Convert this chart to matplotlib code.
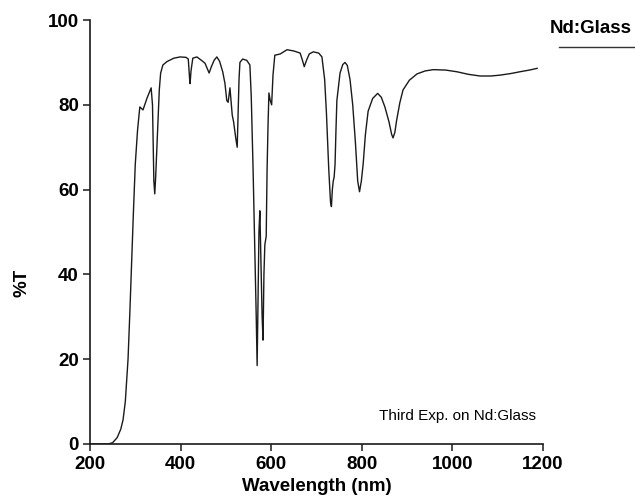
import numpy as np
import matplotlib
matplotlib.use("Agg")
import matplotlib.pyplot as plt

plt.rcParams['font.family'] = ['Liberation Sans', 'DejaVu Sans']

# wavelength (nm) and transmittance (%)
wavelength = [200, 240, 250, 260, 268, 273, 278, 284, 288, 292, 296, 300, 305, 310,
              317, 326, 335, 338, 341, 343, 345, 347, 350, 353, 356, 361, 370, 385,
              399, 412, 417, 420, 421, 423, 427, 436, 446, 454, 460, 463, 468, 474,
              480, 486, 493, 498, 502, 505, 509, 512, 514, 517, 522, 525, 527, 529,
              531, 537, 546, 553, 556, 560, 564, 567, 569, 571, 573, 575, 577, 580,
              582, 584, 586, 589, 591, 593, 595, 598, 601, 604, 608, 620, 635, 650,
              664, 669, 673, 678, 684, 693, 705, 712, 718, 722, 727, 731, 733, 735,
              737, 739, 741, 743, 745, 752, 758, 763, 768, 774, 780, 786, 791, 795,
              799, 803, 808, 814, 824, 835, 843, 851, 860, 866, 869, 873, 877, 884,
              891, 905, 922, 940, 958, 985, 1010, 1035, 1061, 1085, 1105, 1130, 1149,
              1170, 1187]
transmittance = [0, 0, 0.3, 1.5, 3.5, 5.7, 10, 20, 31, 43, 55, 66, 74, 79.5,
                 78.8, 81.6, 84, 80, 62, 59, 63, 68, 76, 83.5, 87.5, 89.4, 90.2, 91,
                 91.3, 91.2, 90.8, 86, 85, 88, 91, 91.3, 90.5, 89.8, 88.3, 87.5, 89, 90.5,
                 91.3, 90.3, 87.8, 85, 81, 80.6, 84, 80, 77.6, 76, 72, 70, 78, 86,
                 90, 90.8, 90.5, 89.4, 82, 65, 45, 30, 18.5, 35, 50, 55, 45, 30,
                 24.5, 40, 47, 49, 65, 75, 82.8, 81, 80, 87, 91.7, 92, 93, 92.7,
                 92.2, 90.5, 89, 90.5, 92, 92.5, 92.2, 91.3, 86, 78, 65, 57, 56, 60,
                 62, 63, 66, 74, 81, 87.5, 89.5, 90, 89.3, 86, 80, 71, 62, 59.5,
                 62, 66, 73, 78.5, 81.5, 82.7, 81.8, 79.5, 76, 73, 72.2, 73.5, 76.4, 80.5,
                 83.5, 85.8, 87.3, 88, 88.3, 88.2, 87.8, 87.2, 86.8, 86.8, 87, 87.4, 87.8,
                 88.2, 88.6]

x_ticks = [200, 400, 600, 800, 1000, 1200]
y_ticks = [0, 20, 40, 60, 80, 100]

fig = plt.figure(figsize=(6.35, 5.01), dpi=100)
ax = fig.add_axes([0.1417, 0.1138, 0.7134, 0.8462])

ax.plot(wavelength, transmittance, color='#1a1a1a', linewidth=1.0)

ax.set_xlim(200, 1200)
ax.set_ylim(0, 100)
ax.set_xticks(x_ticks)
ax.set_yticks(y_ticks)
ax.spines['top'].set_visible(False)
ax.spines['right'].set_visible(False)
for s in ['left', 'bottom']:
    ax.spines[s].set_linewidth(1.2)
    ax.spines[s].set_color('#1a1a1a')
ax.tick_params(axis='both', direction='out', length=5, width=1.1, color='#1a1a1a',
               labelsize=13.5)
ax.tick_params(axis='x', pad=4)
ax.tick_params(axis='y', pad=3)
for lab in ax.get_xticklabels() + ax.get_yticklabels():
    lab.set_fontweight('bold')

ax.set_xlabel('Wavelength (nm)', fontsize=13.5, fontweight='bold', va='center')
ax.xaxis.set_label_coords(0.5, -0.101)
ax.set_ylabel('%T', fontsize=13.5, fontweight='bold', va='center')
ax.yaxis.set_label_coords(-0.15, 0.38)

ax.text(0.812, 0.066, 'Third Exp. on Nd:Glass', transform=ax.transAxes,
        fontsize=11, ha='center', va='center')

# label in upper right corner with a short line under it
fig.text(0.93, 0.944, 'Nd:Glass', fontsize=13.5, fontweight='bold',
         ha='center', va='center')
fig.add_artist(plt.Line2D([0.88, 1.0], [0.906, 0.906], color='#333333', linewidth=1.0))

fig.savefig('out.png', dpi=100)
